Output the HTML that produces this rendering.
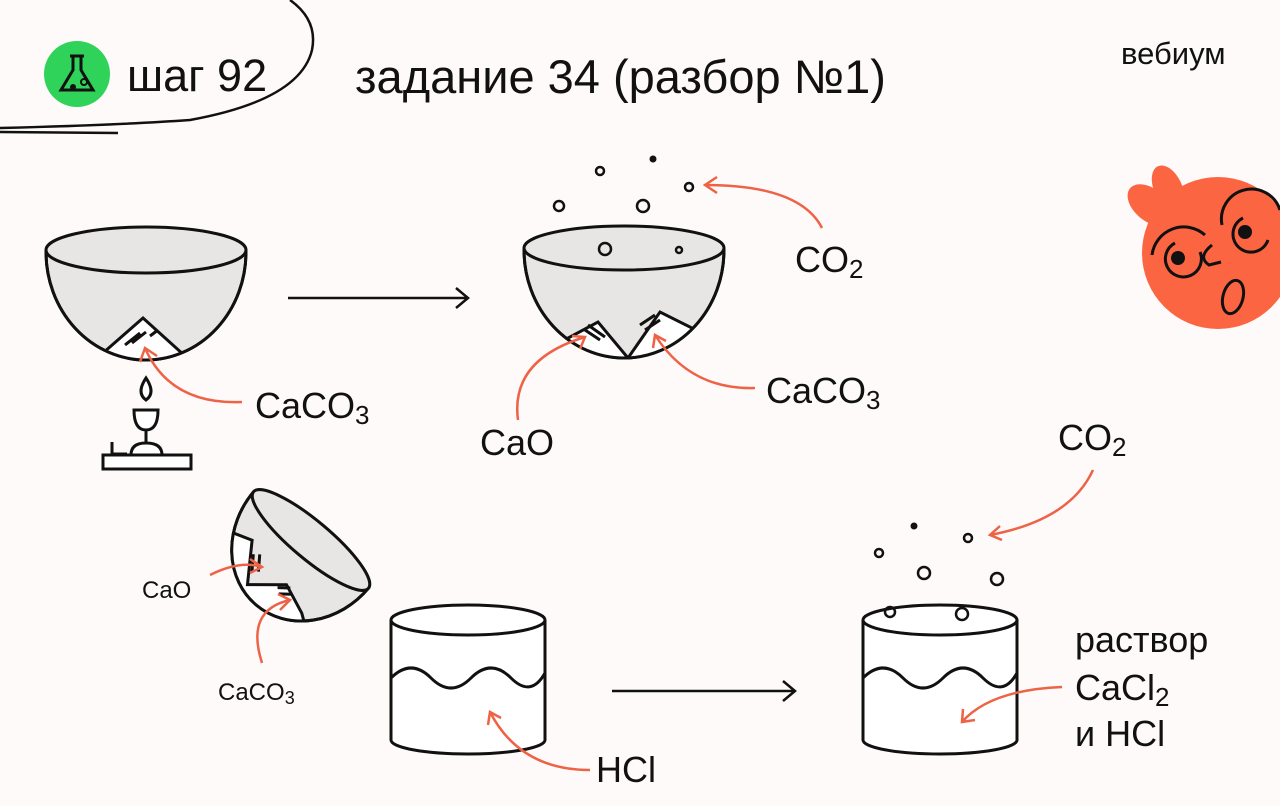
<!DOCTYPE html>
<html><head><meta charset="utf-8"><style>
body{margin:0;background:#fdfaf9;}
svg{display:block}
text{font-family:"Liberation Sans","DejaVu Sans",sans-serif;fill:#111}
</style></head><body>
<svg width="1280" height="806" viewBox="0 0 1280 806" xmlns="http://www.w3.org/2000/svg">
<defs>
<clipPath id="b1"><path d="M46 252 A100 108 0 0 0 246 252 Z"/></clipPath>
<clipPath id="b2"><path d="M524 250 A100 108 0 0 0 724 250 Z"/></clipPath>
<clipPath id="b3"><path d="M-75 0 A75 85 0 0 0 75 0 Z"/></clipPath>
</defs>
<rect width="1280" height="806" fill="#fdfaf9"/>
<path d="M0 128 Q120 125 190 120 Q300 100 312 50 Q318 20 290 0" fill="none" stroke="#111" stroke-width="2.5"/>
<path d="M0 132 L118 133" stroke="#111" stroke-width="2.5"/>
<circle cx="77" cy="74" r="33" fill="#2fd35a"/>
<path d="M70 56 h14 M73 56 v14 l-12 20 h32 l-12 -20 v-14" fill="none" stroke="#111" stroke-width="3"/>
<circle cx="73" cy="87" r="3" fill="#111"/><circle cx="84" cy="82" r="3" fill="none" stroke="#111" stroke-width="2"/>
<text x="127" y="91" font-size="45">шаг 92</text>
<text x="355" y="93" font-size="47">задание 34 (разбор №1)</text>
<text x="1121" y="64" font-size="31">вебиум</text>
<g>
<ellipse cx="1150" cy="205" rx="16" ry="26" fill="#fb6541" transform="rotate(-50 1150 205)"/>
<ellipse cx="1168" cy="188" rx="14" ry="24" fill="#fb6541" transform="rotate(-25 1168 188)"/>
<circle cx="1218" cy="253" r="76" fill="#fb6541"/>
<path d="M1152 255 A32 32 0 0 1 1205 235" fill="none" stroke="#111" stroke-width="3"/>
<path d="M1175 243 A18 18 0 1 0 1200 252" fill="none" stroke="#111" stroke-width="3"/>
<circle cx="1178" cy="258" r="7" fill="#111"/>
<path d="M1222 225 A30 30 0 0 1 1280 210" fill="none" stroke="#111" stroke-width="3"/>
<path d="M1243 218 A18 18 0 1 0 1268 240" fill="none" stroke="#111" stroke-width="3"/>
<circle cx="1245" cy="232" r="7" fill="#111"/>
<path d="M1212 245 q-15 12 -3 20 l12 -3" fill="none" stroke="#111" stroke-width="3"/>
<ellipse cx="1233" cy="297" rx="10" ry="17" fill="none" stroke="#111" stroke-width="3" transform="rotate(15 1233 297)"/>
</g>
<g stroke="#111" stroke-width="3" fill="#e8e6e5">
<path d="M46 252 A100 108 0 0 0 246 252 Z"/>
<g clip-path="url(#b1)"><path d="M95 360 L143 318 L195 365 Z" fill="#fff"/><path d="M125 345 l15 -12 M132 343 l14 -11 M150 336 l8 -6" fill="none"/></g>
<path d="M46 252 A100 108 0 0 0 246 252" fill="none"/>
<ellipse cx="146" cy="250" rx="100" ry="23"/>
<path d="M146 378 q-10 15 0 22 q10 -7 0 -22 z" fill="#fff"/>
<path d="M134 410 h24 q0 20 -12 20 q-12 0 -12 -20 z M146 430 v12" fill="#fff"/>
<path d="M131 455 q0 -12 15 -12 q16 0 16 12" fill="#fff"/>
<rect x="103" y="455" width="88" height="14" fill="#fff"/>
<path d="M112 442 v12 h15" fill="none"/>
<path d="M524 250 A100 108 0 0 0 724 250 Z"/>
<g clip-path="url(#b2)"><path d="M545 360 L555 345 L598 322 L628 358 L660 312 L700 332 L710 370 Z" fill="#fff"/>
<path d="M585 330 l15 10 M588 325 l17 12 M640 325 l15 -10 M645 330 l15 -10" fill="none"/></g>
<path d="M524 250 A100 108 0 0 0 724 250" fill="none"/>
<ellipse cx="624" cy="248" rx="100" ry="22"/>
<g transform="translate(311 540) rotate(40)">
<path d="M-75 0 A75 85 0 0 0 75 0 Z"/>
<g clip-path="url(#b3)"><path d="M-80 50 L-45 38 L-20 75 L10 50 L40 62 L80 90 L-80 95 Z" fill="#fff"/>
<path d="M-35 48 l10 14 M-30 44 l10 14 M5 58 l10 -8 M10 62 l10 -8" fill="none"/></g>
<path d="M-75 0 A75 85 0 0 0 75 0" fill="none"/>
<ellipse cx="0" cy="0" rx="75" ry="19"/>
</g>
<path d="M391 620 V740 A77 14 0 0 0 545 740 V620" fill="#fff"/>
<ellipse cx="468" cy="620" rx="77" ry="15" fill="#fff"/>
<path d="M391 678 q20 -20 40 0 t40 0 t40 0 t34 -5" fill="none"/>
<path d="M863 620 V740 A77 14 0 0 0 1017 740 V620" fill="#fff"/>
<ellipse cx="940" cy="620" rx="77" ry="15" fill="#fff"/>
<path d="M863 678 q20 -20 40 0 t40 0 t40 0 t34 -5" fill="none"/>
</g>
<g fill="none" stroke="#111" stroke-width="2.5">
<circle cx="600" cy="171" r="4"/><circle cx="559" cy="206" r="5"/><circle cx="643" cy="206" r="6"/><circle cx="689" cy="187" r="4"/>
<circle cx="605" cy="249" r="6"/><circle cx="679" cy="250" r="3"/>
<circle cx="879" cy="553" r="4"/><circle cx="968" cy="538" r="4"/><circle cx="924" cy="573" r="6"/><circle cx="997" cy="579" r="6"/>
<circle cx="890" cy="612" r="5"/><circle cx="962" cy="614" r="6"/>
</g>
<circle cx="653" cy="159" r="3.5" fill="#111"/><circle cx="914" cy="526" r="3.5" fill="#111"/>
<g stroke="#111" stroke-width="2.5" fill="none">
<path d="M288 298 H468 M456 288 l12 10 l-12 10"/>
<path d="M612 691 H795 M783 681 l12 10 l-12 10"/>
</g>
<g stroke="#ee6246" stroke-width="2.5" fill="none">
<path d="M242 402 Q170 405 145 348 M140 362 l5 -14 l12 8"/>
<path d="M822 228 Q800 185 705 185 M717 177 l-12 8 l12 8"/>
<path d="M518 420 Q510 360 585 337 M572 336 l13 1 l-5 12"/>
<path d="M755 388 Q690 390 655 335 M653 348 l2 -13 l11 6"/>
<path d="M210 575 Q240 560 262 567 M250 559 l12 8 l-12 6"/>
<path d="M262 663 Q245 610 290 600 M278 594 l12 6 l-10 10"/>
<path d="M590 770 Q520 770 490 712 M488 725 l2 -13 l11 6"/>
<path d="M1093 470 Q1070 520 990 535 M1000 526 l-10 9 l12 5"/>
<path d="M1062 687 Q990 690 962 722 M963 709 l-1 13 l13 -2"/>
</g>
<g font-size="36">
<text x="255" y="418">CaCO<tspan font-size="26" dy="6">3</tspan></text>
<text x="795" y="272">CO<tspan font-size="26" dy="6">2</tspan></text>
<text x="480" y="455">CaO</text>
<text x="766" y="403">CaCO<tspan font-size="26" dy="6">3</tspan></text>
<text x="1058" y="450">CO<tspan font-size="26" dy="6">2</tspan></text>
<text x="596" y="782">HCl</text>
<text x="1075" y="652">раствор</text>
<text x="1075" y="700">CaCl<tspan font-size="26" dy="6">2</tspan></text>
<text x="1075" y="746">и HCl</text>
</g>
<text x="142" y="598" font-size="24">CaO</text>
<text x="218" y="700" font-size="24">CaCO<tspan font-size="18" dy="4">3</tspan></text>
</svg>
</body></html>
